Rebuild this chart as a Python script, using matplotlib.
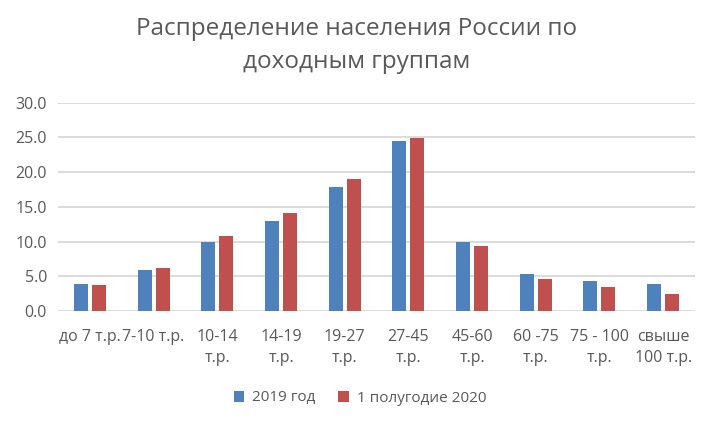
import matplotlib
matplotlib.use("Agg")
import matplotlib.pyplot as plt
import numpy as np

plt.rcParams['font.family'] = ['Open Sans', 'DejaVu Sans']

categories = ["до 7 т.р.", "7-10 т.р.", "10-14\nт.р.", "14-19\nт.р.", "19-27\nт.р.",
              "27-45\nт.р.", "45-60\nт.р.", "60 -75\nт.р.", "75 - 100\nт.р.", "свыше\n100 т.р."]
values_2019 = [3.9, 5.9, 10.0, 13.0, 17.9, 24.5, 10.0, 5.4, 4.3, 3.9]
values_2020 = [3.8, 6.2, 10.8, 14.1, 19.0, 24.9, 9.4, 4.6, 3.5, 2.5]
series_names = ["2019 год", "1 полугодие 2020"]
title = "Распределение населения России по\nдоходным группам"

W, H = 706, 425
fig = plt.figure(figsize=(W / 100, H / 100), dpi=100)
ax = fig.add_axes([58 / W, (H - 311) / H, (695 - 58) / W, (311 - 102.7) / H])

x = np.arange(len(categories))
bw = 0.22
off = 0.141
ax.bar(x - off, values_2019, bw, color="#4F81BD", label=series_names[0], zorder=3)
ax.bar(x + off, values_2020, bw, color="#C0504D", label=series_names[1], zorder=3)

ax.set_xlim(-0.5, len(categories) - 0.5)
ax.set_ylim(0, 30)
ax.set_yticks(np.arange(0, 30.1, 5))
ax.set_yticklabels([f"{v:.1f}" for v in np.arange(0, 30.1, 5)])
ax.yaxis.grid(True, color="#D9D9D9", linewidth=1.3, zorder=0)
ax.set_axisbelow(True)
for s in ax.spines.values():
    s.set_visible(False)
ax.tick_params(axis='both', length=0, colors="#595959", labelsize=11.5)
ax.tick_params(axis='y', pad=8)
ax.tick_params(axis='x', pad=13)
ax.set_xticks(x)
ax.set_xticklabels(categories, linespacing=1.45, va='top')

fig.text(357 / W, 1 - 45.5 / H, title, ha='center', va='center', fontsize=17.5,
         color="#595959", linespacing=1.5)

leg = fig.legend(loc='center', bbox_to_anchor=(360 / W, 1 - 398 / H), ncol=2, frameon=False,
                 fontsize=11, handlelength=0.7, handleheight=0.7, columnspacing=1.5,
                 handletextpad=0.5)
for t in leg.get_texts():
    t.set_color("#595959")

fig.savefig("out.png", dpi=100)
